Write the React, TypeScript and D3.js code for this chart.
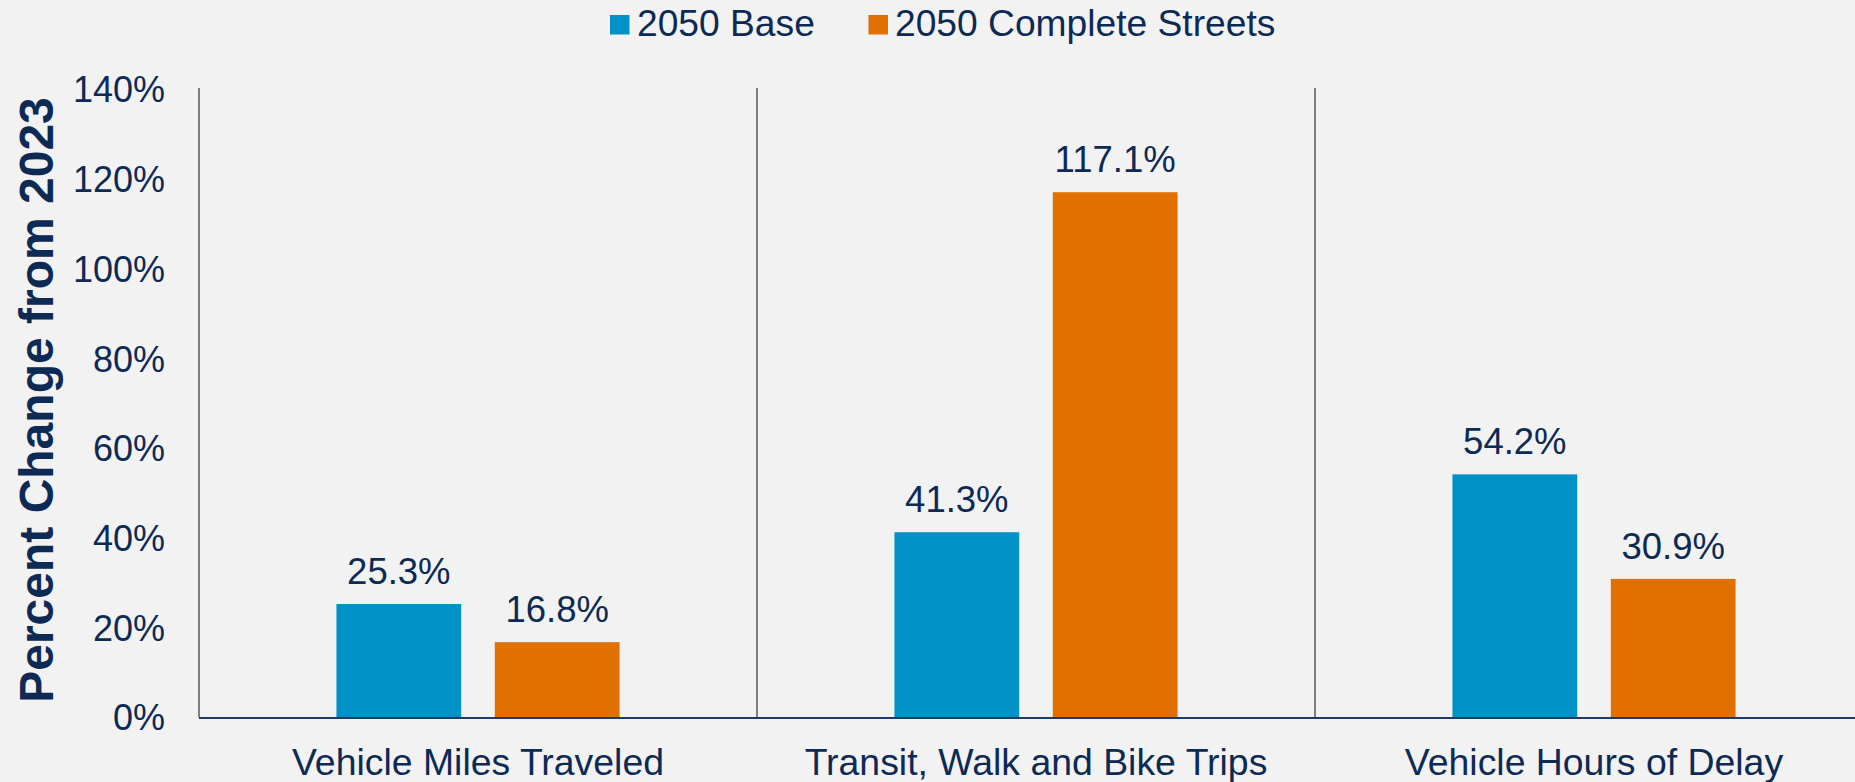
import React from "react";
import * as d3 from "d3";

const categories = ["Vehicle Miles Traveled", "Transit, Walk and Bike Trips", "Vehicle Hours of Delay"];
const seriesNames = ["2050 Base", "2050 Complete Streets"];
const baseValues = [25.3, 41.3, 54.2];
const completeValues = [16.8, 117.1, 30.9];
const yTicks = [0, 20, 40, 60, 80, 100, 120, 140];
const colors = ["#0092C6", "#E07000"];

const W = 1855;
const H = 782;
const FONT = "'Liberation Sans', Arial, Helvetica, sans-serif";
const TEXT = "#0D2A54";

export default function App() {
  const left = 199;
  const catW = 558;
  const x0 = d3.scaleBand<string>().domain(categories).range([left, left + catW * 3]).padding(0);
  const x1 = d3.scaleBand<string>().domain(seriesNames).range([0, x0.bandwidth()]).paddingInner(0.212).paddingOuter(0.868);
  const y = d3.scaleLinear().domain([0, 140]).range([717.5, 89.5]);
  const series = [baseValues, completeValues];

  return (
    <svg width={W} height={H} style={{ position: "absolute", left: 0, top: 0, background: "#F2F2F2" }} fontFamily={FONT}>
      <rect x={0} y={0} width={W} height={H} fill="#F2F2F2" />
      {/* legend */}
      <g>
        <rect x={610} y={15} width={19.5} height={19.5} fill={colors[0]} />
        <text x={637} y={35.5} fontSize={37.2} fill={TEXT}>{seriesNames[0]}</text>
        <rect x={868.5} y={15} width={19.5} height={19.5} fill={colors[1]} />
        <text x={895} y={35.5} fontSize={37.2} fill={TEXT}>{seriesNames[1]}</text>
      </g>
      {/* y axis title */}
      <text transform={`translate(53,400) rotate(-90)`} textAnchor="middle" fontSize={48} fontWeight="bold" fill={TEXT}>
        Percent Change from 2023
      </text>
      {/* y ticks */}
      {yTicks.map((t) => (
        <text key={t} x={165} y={y(t)} dy="0.36em" textAnchor="end" fontSize={36} fill={TEXT}>
          {`${t}%`}
        </text>
      ))}
      {/* bars */}
      {categories.map((c, ci) => (
        <g key={c} transform={`translate(${x0(c)},0)`}>
          {series.map((vals, si) => (
            <g key={si}>
              <rect
                x={x1(seriesNames[si])}
                y={y(vals[ci])}
                width={x1.bandwidth()}
                height={y(0) - y(vals[ci])}
                fill={colors[si]}
              />
              <text
                x={(x1(seriesNames[si]) as number) + x1.bandwidth() / 2}
                y={y(vals[ci]) - 20}
                textAnchor="middle"
                fontSize={36.5}
                fill={TEXT}
              >
                {`${vals[ci].toFixed(1)}%`}
              </text>
            </g>
          ))}
          <text x={x0.bandwidth() / 2} y={775} textAnchor="middle" fontSize={37.4} fill={TEXT}>
            {c}
          </text>
        </g>
      ))}
      {/* vertical axis + dividers */}
      {categories.map((c) => (
        <line key={c} x1={x0(c)} x2={x0(c)} y1={88} y2={y(0)} stroke="#595959" strokeWidth={1.5} />
      ))}
      {/* baseline */}
      <line x1={left} x2={W} y1={y(0) + 0.5} y2={y(0) + 0.5} stroke="#1F3A66" strokeWidth={2} />
    </svg>
  );
}
